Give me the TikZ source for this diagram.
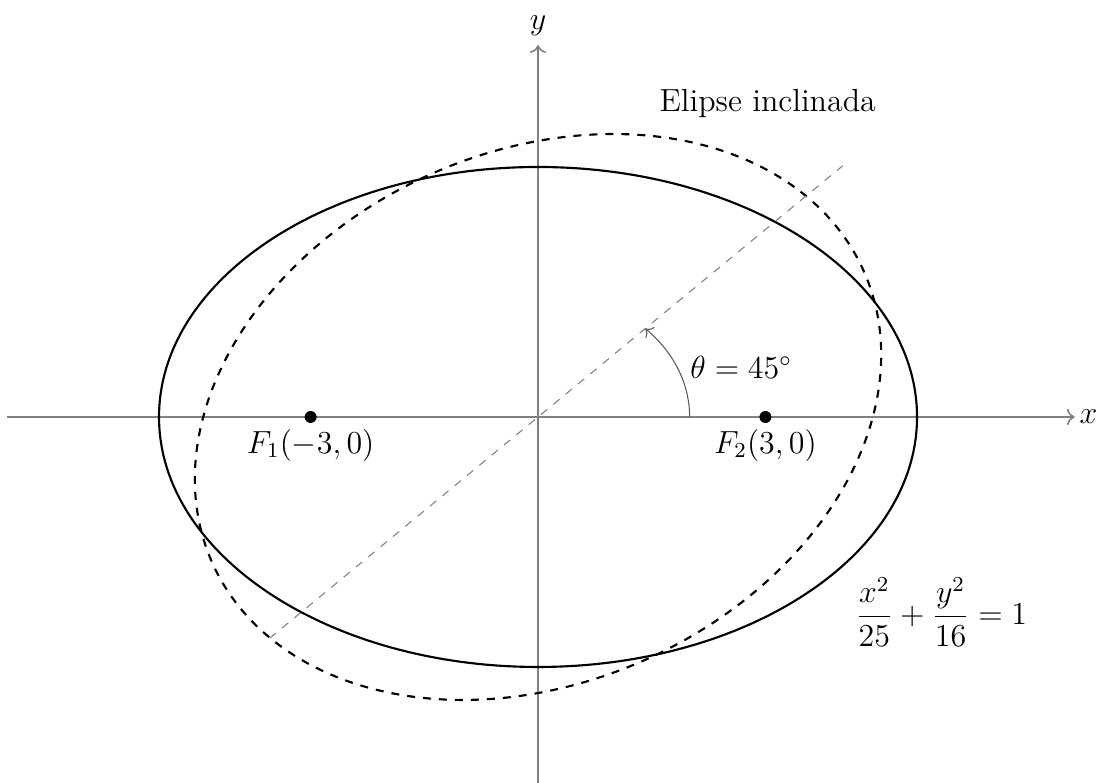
\documentclass[tikz,border=0pt]{standalone}
\usetikzlibrary{arrows.meta}
\begin{document}
\begin{tikzpicture}[x=1cm,y=0.8245cm,
  axis/.style={gray,semithick,->},
  curve/.style={black,thick},
  focus/.style={circle,fill=black,inner sep=0pt,minimum size=4.5pt},
  lbl/.style={font=\large}]
\useasboundingbox (-7.098,-5.856) rectangle (7.361,6.672);
% axes
\coordinate (xl) at (-7,0);
\coordinate (xr) at (7.08,0);
\coordinate (yb) at (0,-5.9);
\coordinate (yt) at (0,5.95);
\draw[axis] (xl) -- (xr) node[right,inner sep=1.5pt,lbl,black] (xlab) {$x$};
\draw[axis] (yb) -- (yt) node[above,lbl,black] (ylab) {$y$};
% ellipses
\draw[curve] (0,0) ellipse (5 and 4);
\draw[curve,dashed] plot[smooth cycle,samples=120,domain=0:357,variable=\t]
  ({0.70711*(5*cos(\t)-4*sin(\t))},{0.70711*(5*cos(\t)+4*sin(\t))});
% inclined axis
\coordinate (d1) at (-3.54,-3.54);
\coordinate (d2) at (4.02,4.02);
\draw[gray,thin,dashed] (d1) -- (d2);
% angle
\coordinate (a0) at (2,0);
\draw[gray!70!black,->] (a0) arc (0:45:2);
\node[lbl] (theta) at (2.68,0.8) {$\theta = 45^\circ$};
% foci
\node[focus] (f1) at (-3,0) {};
\node[focus] (f2) at (3,0) {};
\node[lbl,below=1pt] (f1lab) at (f1) {$F_1(-3,0)$};
\node[lbl,below=1pt] (f2lab) at (f2) {$F_2(3,0)$};
% texts
\node[lbl] (title) at (3.03,5.02) {Elipse inclinada};
\node[lbl] (eq) at (5.32,-3.12) {$\displaystyle\frac{x^2}{25}+\frac{y^2}{16}=1$};
\end{tikzpicture}
\end{document}
